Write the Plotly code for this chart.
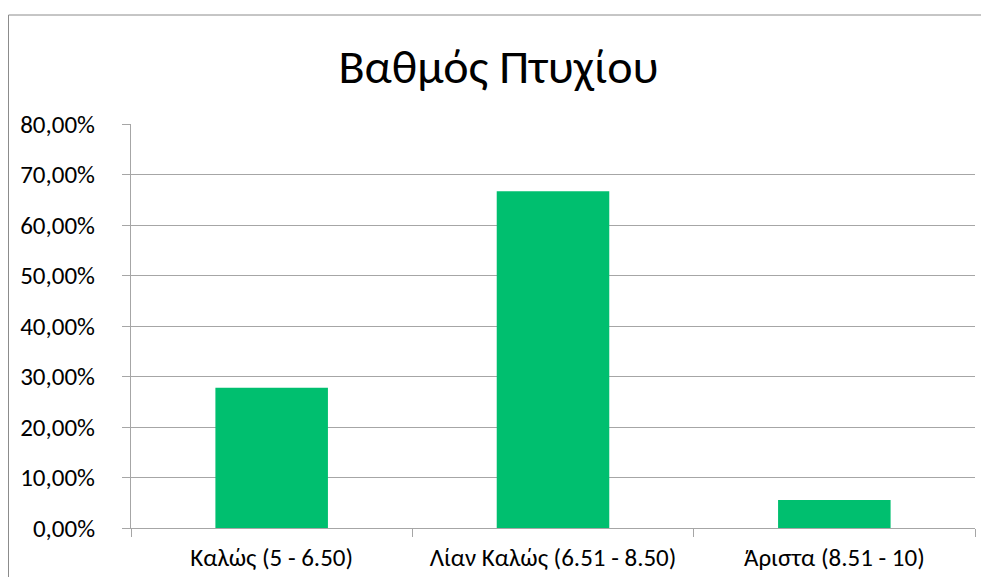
import plotly.graph_objects as go

categories = ["Καλώς (5 - 6.50)", "Λίαν Καλώς (6.51 - 8.50)", "Άριστα (8.51 - 10)"]
values = [0.2778, 0.6667, 0.0556]
y_ticks = [0, 0.1, 0.2, 0.3, 0.4, 0.5, 0.6, 0.7, 0.8]
title_text = "Βαθμός Πτυχίου"

FONT = "Carlito, Lato, 'Open Sans', sans-serif"
GRID = "#a6a6a6"

fig = go.Figure()
fig.add_trace(go.Bar(x=categories, y=values, marker=dict(color="#00bf6f", line=dict(width=0)),
                     width=0.4))

# page is offset by the 8px body margin
W, H = 981, 569
L, R, T, B = 123, 14, 116, 49
pw, ph = W - L - R, H - T - B

fig.update_layout(
    width=W, height=H,
    margin=dict(l=L, r=R, t=T, b=B, autoexpand=False),
    paper_bgcolor="white", plot_bgcolor="white",
    separators=",.",
    showlegend=False,
    font=dict(family=FONT, color="#000000"),
    title=dict(text=title_text, x=0.5, xref="container", xanchor="center",
               y=1 - 58 / H, yref="container", yanchor="middle",
               font=dict(family=FONT, size=48, color="#000000")),
    xaxis=dict(showgrid=False, showline=True, linecolor=GRID, linewidth=1,
               ticks="outside", tickson="boundaries", ticklen=8, tickcolor=GRID,
               tickfont=dict(size=25), ticklabelstandoff=7, automargin=False),
    yaxis=dict(range=[0, 0.8], tickvals=y_ticks, tickformat=".2%",
               showgrid=True, gridcolor=GRID, gridwidth=1,
               showline=True, linecolor=GRID, linewidth=1,
               ticks="outside", ticklen=8, tickcolor=GRID,
               tickfont=dict(size=25), ticklabelstandoff=22, zeroline=False,
               automargin=False),
    shapes=[dict(type="rect", xref="paper", yref="paper",
                 x0=(0.5 - L) / pw, x1=(W + 20 - L) / pw,
                 y0=-(B + 20) / ph, y1=(H - B - 7) / ph,
                 line=dict(color="#8c8c8c", width=1), fillcolor="rgba(0,0,0,0)",
                 layer="below")],
)

fig.write_html("out.html")
